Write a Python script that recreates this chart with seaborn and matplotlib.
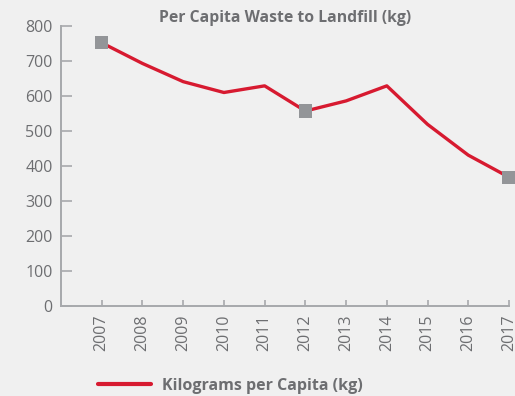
import matplotlib
matplotlib.use("Agg")
import matplotlib.pyplot as plt
import seaborn as sns
import pandas as pd

# Per capita waste sent to landfill, kilograms
years = [2007, 2008, 2009, 2010, 2011, 2012, 2013, 2014, 2015, 2016, 2017]
kg_per_capita = [752, 693, 641, 610, 629, 557, 586, 629, 519, 431, 368]
highlight_years = [2007, 2012, 2017]
y_ticks = [0, 100, 200, 300, 400, 500, 600, 700, 800]

df = pd.DataFrame({"Year": years, "Kilograms per Capita (kg)": kg_per_capita})
marks = df[df["Year"].isin(highlight_years)]

BG = "#f0f0f0"
TEXT = "#6d6e71"
AXIS = "#a7a9ac"
RED = "#d71a30"
MARK = "#939598"

sns.set_theme(style="ticks")
plt.rcParams["font.family"] = ["Open Sans", "DejaVu Sans"]

fig = plt.figure(figsize=(5.15, 3.96), dpi=100, facecolor=BG)
ax = fig.add_axes([61 / 515, 1 - 306 / 396, (509 - 61) / 515, (306 - 26) / 396])
ax.set_facecolor(BG)

sns.lineplot(data=df, x="Year", y="Kilograms per Capita (kg)", color=RED,
             linewidth=2.4, ax=ax, label="Kilograms per Capita (kg)", zorder=2)
sns.scatterplot(data=marks, x="Year", y="Kilograms per Capita (kg)", marker="s",
                s=90, color=MARK, edgecolor="none", ax=ax, zorder=3, legend=False,
                clip_on=False)

ax.set_xlim(2006, 2017)
ax.set_ylim(0, 800)
ax.set_xticks(years)
ax.set_xticklabels([str(y) for y in years], rotation=90)
ax.set_yticks(y_ticks)
ax.set_xlabel("")
ax.set_ylabel("")

for side in ("top", "right"):
    ax.spines[side].set_visible(False)
for side in ("left", "bottom"):
    ax.spines[side].set_color(AXIS)
    ax.spines[side].set_linewidth(1.4)

ax.tick_params(axis="y", direction="in", length=8, width=1.2, color=AXIS,
               labelcolor=TEXT, labelsize=11.5, pad=6)
ax.tick_params(axis="x", direction="in", length=4.5, width=1.2, color=AXIS,
               labelcolor=TEXT, labelsize=11.5, pad=6)

ax.set_title("Per Capita Waste to Landfill (kg)", color=TEXT, fontsize=11.3,
             fontweight="bold", pad=2)

leg = ax.legend(loc="center left", bbox_to_anchor=(98 / 515, 1 - 386 / 396),
                bbox_transform=fig.transFigure, frameon=False, borderpad=0,
                borderaxespad=0, handlelength=3.3, handletextpad=0.7,
                prop={"weight": "bold", "size": 11.5})
for t in leg.get_texts():
    t.set_color(TEXT)
for h in leg.get_lines():
    h.set_linewidth(3)

fig.savefig("out.png", dpi=100, facecolor=BG)
